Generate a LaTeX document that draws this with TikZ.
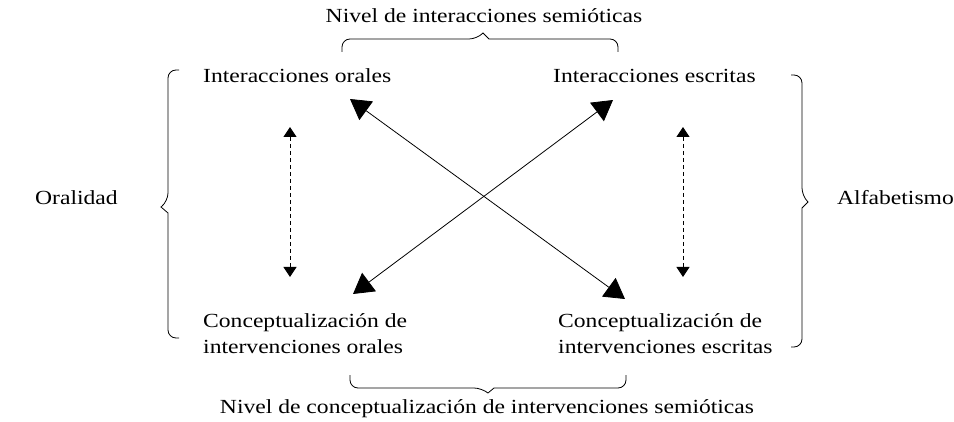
\documentclass[tikz,border=0pt]{standalone}
\usepackage{fontspec}
\setmainfont[FakeStretch=1.18]{Liberation Serif}
\usetikzlibrary{arrows.meta}
\tikzset{
  lbl/.style={inner sep=0pt, font=\fontsize{20}{26}\selectfont},
  bigarrow/.style={line width=0.8pt, {Triangle[length=20pt,width=23pt]}-{Triangle[length=20pt,width=23pt]}},
  dasharrow/.style={line width=0.8pt, dash pattern=on 4pt off 3pt, {Triangle[length=10pt,width=13pt]}-{Triangle[length=10pt,width=13pt]}},
  bracepath/.style={line width=0.8pt},
}
\begin{document}
\begin{tikzpicture}[x=1pt,y=-1pt]
\useasboundingbox (0,0) rectangle (954,422);
% labels
\node[lbl, anchor=base] (top) at (484,23) {Nivel de interacciones semióticas};
\node[lbl, anchor=base west] (io) at (203,83) {Interacciones orales};
\node[lbl, anchor=base west] (ie) at (553,83) {Interacciones escritas};
\node[lbl, anchor=base west] (oral) at (35,205) {Oralidad};
\node[lbl, anchor=base west] (alf) at (837,205) {Alfabetismo};
\node[lbl, anchor=base west, align=left] (co) at (203,353) {Conceptualización de\\intervenciones orales};
\node[lbl, anchor=base west, align=left] (ce) at (558,353) {Conceptualización de\\intervenciones escritas};
\node[lbl, anchor=base] (bot) at (487,413) {Nivel de conceptualización de intervenciones semióticas};
% arrow end points
\coordinate (tl) at (350,99);
\coordinate (tr) at (613,100);
\coordinate (bl) at (353,294);
\coordinate (br) at (625,299);
\draw[bigarrow] (tl) -- (br);
\draw[bigarrow] (tr) -- (bl);
\coordinate (dl1) at (290,127);
\coordinate (dl2) at (290,277);
\coordinate (dr1) at (683,127);
\coordinate (dr2) at (683,277);
\draw[dasharrow] (dl1) -- (dl2);
\draw[dasharrow] (dr1) -- (dr2);
% braces
\draw[bracepath, rounded corners=8pt] (342,52) |- (477,39) [sharp corners] -- (483,33) -- (489,39) [rounded corners=8pt] -| (618,52);
\draw[bracepath, rounded corners=8pt] (350,375) |- (482,388) [sharp corners] -- (488,393) -- (494,388) [rounded corners=8pt] -| (626,375);
\draw[bracepath, rounded corners=8pt] (179,70) -| (168,201) [sharp corners] -- (161,207) -- (168,213) [rounded corners=8pt] |- (179,338);
\draw[bracepath, rounded corners=8pt] (791,75) -| (802,196) [sharp corners] -- (808,202) -- (802,208) [rounded corners=8pt] |- (791,347);
\end{tikzpicture}
\end{document}
